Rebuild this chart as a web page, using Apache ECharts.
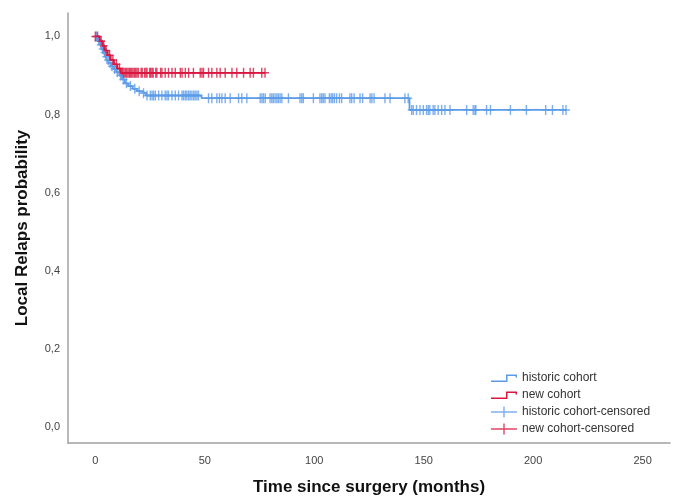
<!DOCTYPE html>
<html>
<head>
<meta charset="utf-8">
<script src="https://cdn.jsdelivr.net/npm/echarts@6/dist/echarts.min.js"></script>
<style>
    html, body {margin: 0; padding: 0; background: #fff;}
    #km-echarts {width: 683px; height: 498px;}
</style>
</head>
<body>
<div id="km-echarts"></div>
<script>
// 历史队列 - 事件时间点和生存率
var histTimes = [0, 1, 2, 3, 3.8, 4.6, 5.4, 6.2, 7.2, 8.2, 9.5, 11, 12.2, 13.5, 15, 17, 19, 21, 23, 48.5, 143.5, 215];
var histSurv  = [1, 0.99, 0.979, 0.968, 0.959, 0.948, 0.94, 0.932, 0.924, 0.917, 0.909, 0.9, 0.89, 0.88, 0.873, 0.866, 0.86, 0.855, 0.849, 0.842, 0.812, 0.812];
// 新队列
var newTimes = [0, 2, 3.2, 4.3, 5.6, 7, 8.5, 10, 11.5, 77.5];
var newSurv  = [1, 0.988, 0.976, 0.964, 0.952, 0.94, 0.929, 0.918, 0.907, 0.907];
// 删失时间
var histCensored = [0.5, 1.5, 2.5, 3.4, 4.2, 5, 5.8, 6.7, 7.6, 8.8, 10, 11.5, 12.8, 14.2, 16, 18, 20, 22,
    23.6, 25.1, 25.9, 26.6, 27.4, 28.9, 30.4, 31.9, 32.7, 33.4, 35, 36.5, 38, 39.6, 40.3, 41.1, 41.8, 42.6, 43.3, 44.1, 44.9, 45.6, 46.4, 47.1,
    51.7, 53.2, 55.5, 56.7, 57.8, 59.3, 61.6, 65.4, 66.9, 69.2, 75.3, 76.1, 76.8, 77.6, 79.8, 80.6, 81.3, 82.1, 82.9, 83.6, 84.4, 85.2,
    88.2, 93.5, 94.3, 95, 99.6, 102.6, 103.4, 104.1, 104.9, 106.9, 107.7, 108.4, 109.2, 110.2, 111.5, 112.5, 116.3, 117.1, 118.2,
    120.9, 122.1, 125.5, 126.3, 127.3, 132.3, 134.6, 141.4, 142.9,
    144.5, 145.2, 146.7, 148.3, 149.8, 151.3, 152.1, 152.8, 154.3, 155.1, 156.6, 158.2, 159.7, 162, 169.6, 172.6, 173.4, 173.8,
    178.7, 180.5, 189.6, 196.9, 205.7, 208.8, 213.6, 215];
var newCensored = [0, 1, 2.6, 3.8, 4.9, 6.5, 8, 9.6, 11,
    12, 12.5, 13.1, 13.7, 14.3, 14.9, 15.5, 16, 16.6, 17.2, 17.8, 18.4, 19, 19.6, 20.9, 21.4, 22.5, 23.1, 23.6, 24.8, 25.3, 25.9, 26.4, 27.6, 28.1,
    29.8, 30.4, 31.9, 33.4, 35, 36.5, 38.8, 39.6, 41.1, 42.6, 44.8, 47.9, 48.7, 49.4, 51.7, 53.2, 55.5, 57, 59.3, 62.4, 64.6, 67.7, 70.7, 72.2, 76, 77.5];
// 坐标轴刻度
var xTicks = [0, 50, 100, 150, 200, 250];
var yTicks = [0, 0.2, 0.4, 0.6, 0.8, 1.0];

var blue = '#5b9be8';
var red = '#d9163f';
// 删失标记（加号）
var plusPath = 'path://M3.3,0 L4.7,0 L4.7,3.8 L8,3.8 L8,5.2 L4.7,5.2 L4.7,9 L3.3,9 L3.3,5.2 L0,5.2 L0,3.8 L3.3,3.8 Z';
// 图例图标
var stepIcon = 'path://M0,8 L15,8 L15,2 L26,2 L26,5 L24.5,5 L24.5,3.5 L16.5,3.5 L16.5,9.5 L0,9.5 Z M0,0 L0.01,0 L0.01,11 L0,11 Z';
var plusIcon = 'path://M0,4.8 L12.3,4.8 L12.3,0 L13.7,0 L13.7,4.8 L26,4.8 L26,6.2 L13.7,6.2 L13.7,11 L12.3,11 L12.3,6.2 L0,6.2 Z';

function zip(t, s) {
    var out = [];
    for (var i = 0; i < t.length; i++) out.push([t[i], s[i]]);
    return out;
}
// 删失点的生存率取自阶梯曲线
function survAt(t, s, x) {
    var v = s[0];
    for (var i = 0; i < t.length; i++) {
        if (t[i] <= x) v = s[i];
    }
    return v;
}
function censorData(cens, t, s) {
    return cens.map(function (x) { return [x, survAt(t, s, x)]; });
}

var kmChart = echarts.init(document.getElementById('km-echarts'));
var option = {
    animation: false,
    grid: {left: 68, right: 13, top: 13, bottom: 55, outerBoundsMode: 'none'},
    legend: {
        orient: 'vertical',
        left: 491,
        top: 372,
        padding: 0,
        itemWidth: 26,
        itemHeight: 11,
        itemGap: 5,
        textStyle: {fontFamily: 'Liberation Sans', fontSize: 12, color: '#333'},
        data: [
            {name: 'historic cohort', icon: stepIcon, itemStyle: {color: blue, borderWidth: 0}},
            {name: 'new cohort', icon: stepIcon, itemStyle: {color: red, borderWidth: 0}},
            {name: 'historic cohort-censored', icon: plusIcon, itemStyle: {color: blue, borderWidth: 0}},
            {name: 'new cohort-censored', icon: plusIcon, itemStyle: {color: red, borderWidth: 0}}
        ]
    },
    xAxis: {
        type: 'value',
        min: -12.5,
        max: 262.5,
        name: 'Time since surgery (months)',
        nameLocation: 'middle',
        nameGap: 36,
        nameTextStyle: {fontFamily: 'Liberation Sans', fontSize: 17, fontWeight: 'bold', color: '#111'},
        axisLine: {onZero: false, lineStyle: {color: '#a0a0a0', width: 1.5}},
        axisTick: {show: false},
        splitLine: {show: false},
        axisLabel: {
            customValues: xTicks,
            margin: 12,
            fontFamily: 'Liberation Sans', fontSize: 11, color: '#444'
        }
    },
    yAxis: {
        type: 'value',
        min: -0.04,
        max: 1.06,
        name: 'Local Relaps probability',
        nameLocation: 'middle',
        nameGap: 37,
        nameTextStyle: {fontFamily: 'Liberation Sans', fontSize: 17, fontWeight: 'bold', color: '#111'},
        axisLine: {onZero: false, lineStyle: {color: '#a0a0a0', width: 1.5}},
        axisTick: {show: false},
        splitLine: {show: false},
        axisLabel: {
            customValues: yTicks,
            margin: 8,
            fontFamily: 'Liberation Sans', fontSize: 11, color: '#444',
            formatter: function (v) { return v.toFixed(1).replace('.', ','); }
        }
    },
    series: [
        {
            name: 'historic cohort',
            type: 'line',
            step: 'end',
            showSymbol: false,
            color: blue,
            lineStyle: {width: 1.8, color: blue},
            data: zip(histTimes, histSurv)
        },
        {
            name: 'historic cohort-censored',
            type: 'scatter',
            symbol: plusPath,
            symbolSize: [8, 10],
            color: blue,
            data: censorData(histCensored, histTimes, histSurv)
        },
        {
            name: 'new cohort',
            type: 'line',
            step: 'end',
            showSymbol: false,
            color: red,
            lineStyle: {width: 1.8, color: red},
            data: zip(newTimes, newSurv)
        },
        {
            name: 'new cohort-censored',
            type: 'scatter',
            symbol: plusPath,
            symbolSize: [8, 10],
            color: red,
            data: censorData(newCensored, newTimes, newSurv)
        }
    ]
};
kmChart.setOption(option);
</script>
</body>
</html>
